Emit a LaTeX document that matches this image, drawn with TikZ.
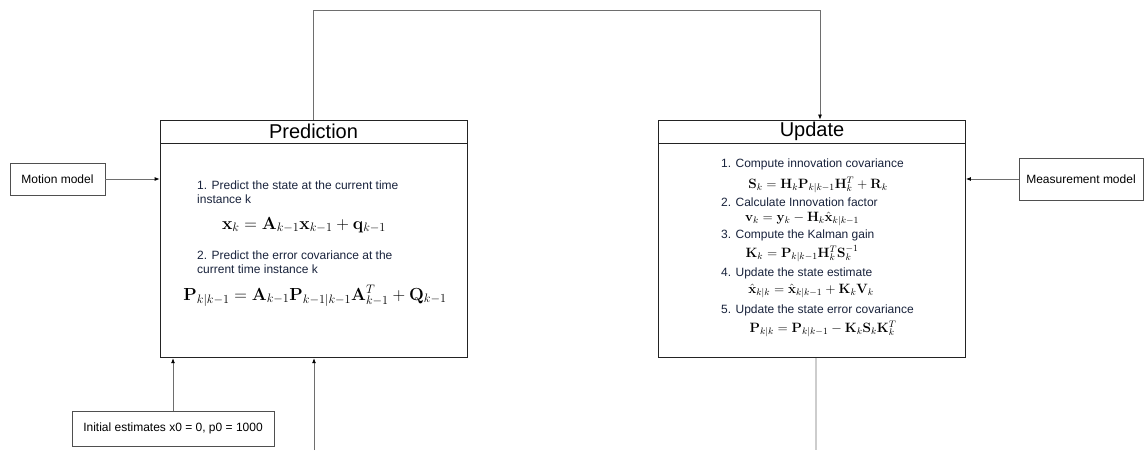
\RequirePackage{fix-cm}
\documentclass[tikz,border=0pt]{standalone}
\usepackage[no-math]{fontspec}
\setmainfont{Liberation Sans}
\usetikzlibrary{arrows.meta, positioning, calc}
\definecolor{KFBorder}{RGB}{35, 35, 35}
\definecolor{KFLine}{RGB}{110, 110, 110}
\definecolor{KFFaint}{RGB}{205, 205, 205}
\definecolor{KFText}{RGB}{25, 35, 60}

\tikzset{
  headbox/.style={draw=KFBorder, line width=0.8pt, minimum width=307pt, minimum height=23pt,
    inner sep=0pt, font=\fontsize{20}{22}\selectfont},
  bodybox/.style={draw=KFBorder, line width=0.8pt, minimum width=307pt, minimum height=214pt, inner sep=0pt},
  srcbox/.style={draw=KFBorder!80, line width=0.6pt, inner sep=0pt, font=\fontsize{12}{14}\selectfont},
  steptext/.style={inner sep=0pt, align=left, font=\fontsize{12}{14}\selectfont, text=KFText},
  bigeq/.style={inner sep=0pt, font=\fontsize{17.5}{19}\selectfont},
  smalleq/.style={inner sep=0pt, font=\fontsize{13.5}{15}\selectfont},
  flow/.style={draw=KFLine, line width=0.8pt, -{Latex[length=5pt, width=4pt, black]}}
}

\begin{document}
\begin{tikzpicture}[x=1pt,y=1pt]
  \path[use as bounding box] (0,0) rectangle (1145,450);
  \fill[white] (0,0) rectangle (1145,450);

  % the two stages
  \node[headbox] (predhead) at (313.5,318.5) {Prediction};
  \node[bodybox, below=0pt of predhead] (predbody) {};
  \node[headbox] (updhead) at (812,318.5) {Update};
  \node[bodybox, below=0pt of updhead] (updbody) {};

  % inputs
  \node[srcbox, minimum width=95pt, minimum height=32pt] (motion) at (57.5,271) {Motion model};
  \node[srcbox, minimum width=124pt, minimum height=42pt] (meas) at (1081,271) {Measurement model};
  \node[srcbox, minimum width=202pt, minimum height=35pt] (init) at (173,21.5) {Initial estimates x0 = 0, p0 = 1000};

  % prediction steps
  \node[steptext, anchor=north west] (p1) at (197,269) {1. Predict the state at the current time\\instance k};
  \node[bigeq] (p1eq) at (304,225) {$\mathbf{x}_k = \mathbf{A}_{k-1}\mathbf{x}_{k-1} + \mathbf{q}_{k-1}$};
  \node[steptext, anchor=north west] (p2) at (197,199) {2. Predict the error covariance at the\\current time instance k};
  \node[bigeq] (p2eq) at (315,154) {$\mathbf{P}_{k|k-1} = \mathbf{A}_{k-1}\mathbf{P}_{k-1|k-1}\mathbf{A}_{k-1}^T + \mathbf{Q}_{k-1}$};

  % update steps
  \node[steptext, anchor=west] (u1) at (721,286) {1. Compute innovation covariance};
  \node[smalleq] (u1eq) at (818,265) {$\mathbf{S}_k = \mathbf{H}_k\mathbf{P}_{k|k-1}\mathbf{H}_k^T + \mathbf{R}_k$};
  \node[steptext, anchor=west] (u2) at (721,248) {2. Calculate Innovation factor};
  \node[smalleq] (u2eq) at (802,231) {$\mathbf{v}_k = \mathbf{y}_k - \mathbf{H}_k\hat{\mathbf{x}}_{k|k-1}$};
  \node[steptext, anchor=west] (u3) at (721,215) {3. Compute the Kalman gain};
  \node[smalleq] (u3eq) at (802,196) {$\mathbf{K}_k = \mathbf{P}_{k|k-1}\mathbf{H}_k^T\mathbf{S}_k^{-1}$};
  \node[steptext, anchor=west] (u4) at (721,177) {4. Update the state estimate};
  \node[smalleq] (u4eq) at (811,159) {$\hat{\mathbf{x}}_{k|k} = \hat{\mathbf{x}}_{k|k-1} + \mathbf{K}_k\mathbf{V}_k$};
  \node[steptext, anchor=west] (u5) at (721,140) {5. Update the state error covariance};
  \node[smalleq] (u5eq) at (823,121) {$\mathbf{P}_{k|k} = \mathbf{P}_{k|k-1} - \mathbf{K}_k\mathbf{S}_k\mathbf{K}_k^T$};

  % connectors
  \draw[flow] (motion.east) -- (motion.east -| predbody.west);
  \draw[flow] (meas.west) -- (meas.west -| updbody.east);
  \draw[flow] (init.north) -- (init.north |- predbody.south);
  \coordinate (toprun) at (820,440);
  \draw[flow] (predhead.north) |- (toprun) -- (toprun |- updhead.north);
  \coordinate (loopin) at (314,0);
  \draw[flow] (loopin) -- (loopin |- predbody.south);
  \coordinate (loopout) at (816,0);
  \draw[KFFaint, line width=1.5pt] (loopout |- updbody.south) -- (loopout);
\end{tikzpicture}
\end{document}
